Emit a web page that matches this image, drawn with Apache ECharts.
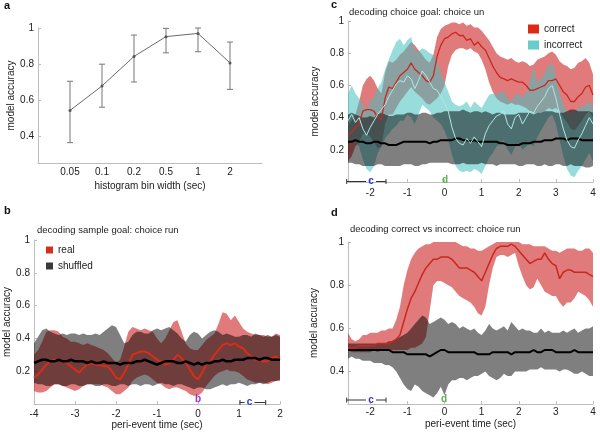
<!DOCTYPE html>
<html><head><meta charset="utf-8">
<script src="https://cdn.jsdelivr.net/npm/echarts@6/dist/echarts.min.js"></script>
<style>html,body{margin:0;padding:0;background:#fff}#c{width:600px;height:434px}</style>
</head><body><div id="c"></div>
<script>
// ---------- panel a ----------
const binLabels = ['0.05','0.1','0.2','0.5','1','2'];
const binPos = [1,2,3,4,5,6];
const accMean = [0.542,0.678,0.842,0.952,0.970,0.806];
const accLo   = [0.363,0.560,0.700,0.862,0.868,0.659];
const accHi   = [0.704,0.799,0.961,0.998,1.000,0.922];

// ---------- panel b ----------
const tB = [-4,-3.9,-3.8,-3.7,-3.6,-3.5,-3.4,-3.3,-3.2,-3.1,
 -3,-2.9,-2.8,-2.7,-2.6,-2.5,-2.4,-2.3,-2.2,-2.1,
 -2,-1.9,-1.8,-1.7,-1.6,-1.5,-1.4,-1.3,-1.2,-1.1,
 -1,-0.9,-0.8,-0.7,-0.6,-0.5,-0.4,-0.3,-0.2,-0.1,
 0,0.1,0.2,0.3,0.4,0.5,0.6,0.7,0.8,0.9,
 1,1.1,1.2,1.3,1.4,1.5,1.6,1.7,1.8,1.9,
 2];
const realMean = [0.16,0.18,0.21,0.24,0.26,0.27,0.27,0.26,0.25,0.23,
 0.21,0.19,0.22,0.24,0.25,0.24,0.24,0.23,0.23,0.20,
 0.16,0.15,0.19,0.24,0.30,0.31,0.32,0.32,0.31,0.29,
 0.27,0.26,0.24,0.25,0.27,0.30,0.28,0.25,0.21,0.17,
 0.15,0.19,0.24,0.26,0.30,0.33,0.36,0.37,0.36,0.37,
 0.35,0.34,0.31,0.29,0.27,0.27,0.26,0.26,0.28,0.29,
 0.27];
const realHi = [0.30,0.33,0.38,0.44,0.45,0.45,0.44,0.41,0.40,0.38,
 0.38,0.37,0.36,0.37,0.36,0.35,0.34,0.33,0.31,0.28,
 0.25,0.27,0.35,0.44,0.47,0.46,0.45,0.46,0.45,0.44,
 0.40,0.37,0.40,0.45,0.50,0.51,0.44,0.37,0.34,0.33,
 0.33,0.36,0.39,0.41,0.43,0.49,0.56,0.55,0.51,0.54,
 0.50,0.46,0.44,0.43,0.42,0.42,0.42,0.41,0.41,0.43,
 0.42];
const realLo = [0.08,0.07,0.07,0.08,0.10,0.12,0.12,0.11,0.10,0.09,
 0.08,0.09,0.11,0.12,0.12,0.12,0.12,0.11,0.10,0.08,
 0.06,0.06,0.08,0.10,0.14,0.16,0.17,0.18,0.17,0.15,
 0.13,0.12,0.10,0.09,0.10,0.10,0.09,0.08,0.06,0.05,
 0.05,0.07,0.11,0.14,0.17,0.19,0.20,0.21,0.20,0.20,
 0.19,0.17,0.15,0.14,0.13,0.13,0.13,0.12,0.13,0.14,
 0.14];
const shufMeanB = [0.25,0.26,0.27,0.27,0.26,0.26,0.27,0.26,0.26,0.27,
 0.26,0.26,0.26,0.25,0.26,0.25,0.25,0.26,0.25,0.25,
 0.25,0.24,0.25,0.25,0.25,0.26,0.26,0.27,0.26,0.25,
 0.24,0.25,0.26,0.26,0.26,0.25,0.25,0.26,0.25,0.24,
 0.25,0.24,0.25,0.25,0.26,0.26,0.27,0.26,0.26,0.27,
 0.27,0.27,0.28,0.28,0.28,0.27,0.28,0.28,0.27,0.27,
 0.27];
const shufHiB = [0.37,0.41,0.45,0.46,0.44,0.43,0.42,0.43,0.42,0.43,
 0.43,0.42,0.43,0.42,0.42,0.43,0.42,0.44,0.46,0.48,
 0.47,0.42,0.37,0.38,0.42,0.44,0.44,0.43,0.43,0.45,
 0.46,0.45,0.46,0.47,0.45,0.43,0.40,0.38,0.42,0.44,
 0.43,0.40,0.42,0.44,0.45,0.44,0.42,0.43,0.42,0.41,
 0.41,0.42,0.42,0.41,0.43,0.42,0.41,0.42,0.41,0.42,
 0.41];
const shufLoB = [0.13,0.12,0.12,0.11,0.11,0.12,0.12,0.11,0.11,0.12,
 0.12,0.11,0.11,0.12,0.12,0.11,0.11,0.12,0.12,0.11,
 0.11,0.12,0.12,0.11,0.12,0.12,0.11,0.12,0.12,0.11,
 0.12,0.13,0.12,0.12,0.11,0.12,0.12,0.11,0.10,0.09,
 0.10,0.10,0.09,0.09,0.10,0.11,0.12,0.11,0.12,0.12,
 0.13,0.12,0.11,0.12,0.12,0.13,0.12,0.13,0.14,0.14,
 0.15];

// ---------- panels c, d ----------
const tCD = [-2.6,-2.5,-2.4,-2.3,-2.2,-2.1,-2,-1.9,-1.8,-1.7,
 -1.6,-1.5,-1.4,-1.3,-1.2,-1.1,-1,-0.9,-0.8,-0.7,
 -0.6,-0.5,-0.4,-0.3,-0.2,-0.1,0,0.1,0.2,0.3,
 0.4,0.5,0.6,0.7,0.8,0.9,1,1.1,1.2,1.3,
 1.4,1.5,1.6,1.7,1.8,1.9,2,2.1,2.2,2.3,
 2.4,2.5,2.6,2.7,2.8,2.9,3,3.1,3.2,3.3,
 3.4,3.5,3.6,3.7,3.8,3.9,4];
const corrMeanC = [0.29,0.31,0.34,0.36,0.44,0.45,0.45,0.44,0.40,0.39,
 0.52,0.59,0.58,0.62,0.66,0.68,0.70,0.74,0.70,0.68,
 0.66,0.63,0.62,0.66,0.78,0.85,0.89,0.90,0.92,0.93,
 0.91,0.91,0.88,0.89,0.85,0.87,0.84,0.82,0.77,0.72,
 0.68,0.65,0.64,0.63,0.64,0.63,0.62,0.62,0.60,0.57,
 0.57,0.58,0.59,0.60,0.63,0.63,0.64,0.60,0.56,0.54,
 0.50,0.50,0.53,0.55,0.59,0.60,0.54];
const corrHiC = [0.35,0.38,0.42,0.50,0.60,0.64,0.66,0.63,0.58,0.55,
 0.68,0.75,0.74,0.76,0.79,0.81,0.84,0.87,0.85,0.82,
 0.79,0.76,0.74,0.79,0.90,0.95,0.97,0.98,0.99,0.99,
 0.98,0.99,0.97,0.98,0.96,0.96,0.94,0.91,0.88,0.84,
 0.80,0.78,0.77,0.76,0.77,0.75,0.74,0.75,0.74,0.72,
 0.73,0.76,0.77,0.78,0.80,0.81,0.79,0.75,0.73,0.72,
 0.70,0.71,0.74,0.75,0.77,0.74,0.67];
const corrLoC = [0.13,0.16,0.22,0.25,0.30,0.30,0.28,0.25,0.21,0.22,
 0.36,0.42,0.42,0.46,0.50,0.53,0.56,0.59,0.56,0.54,
 0.52,0.49,0.48,0.50,0.52,0.55,0.60,0.72,0.79,0.82,
 0.83,0.83,0.82,0.83,0.81,0.80,0.76,0.70,0.62,0.56,
 0.52,0.50,0.49,0.48,0.49,0.48,0.48,0.47,0.46,0.44,
 0.43,0.43,0.43,0.44,0.46,0.45,0.46,0.44,0.40,0.37,
 0.33,0.32,0.35,0.38,0.42,0.44,0.40];
const incMeanC = [0.38,0.42,0.37,0.40,0.33,0.29,0.34,0.38,0.42,0.45,
 0.48,0.53,0.57,0.61,0.63,0.62,0.66,0.64,0.58,0.63,
 0.69,0.66,0.62,0.58,0.57,0.53,0.49,0.44,0.34,0.27,
 0.24,0.23,0.27,0.24,0.28,0.25,0.22,0.30,0.35,0.38,
 0.41,0.42,0.44,0.36,0.33,0.40,0.42,0.36,0.40,0.44,
 0.43,0.47,0.50,0.53,0.58,0.60,0.52,0.42,0.33,0.26,
 0.22,0.21,0.26,0.30,0.35,0.40,0.36];
const incHiC = [0.55,0.60,0.55,0.52,0.48,0.45,0.50,0.53,0.58,0.62,
 0.70,0.76,0.82,0.87,0.89,0.85,0.88,0.90,0.82,0.81,
 0.83,0.82,0.80,0.79,0.75,0.68,0.62,0.56,0.50,0.48,
 0.47,0.48,0.50,0.46,0.50,0.48,0.46,0.50,0.54,0.55,
 0.54,0.56,0.56,0.52,0.50,0.54,0.55,0.52,0.56,0.62,
 0.72,0.62,0.64,0.68,0.72,0.74,0.66,0.55,0.48,0.44,
 0.42,0.44,0.46,0.47,0.48,0.50,0.47];
const incLoC = [0.25,0.27,0.24,0.22,0.14,0.08,0.06,0.10,0.18,0.22,
 0.27,0.30,0.33,0.35,0.38,0.38,0.42,0.40,0.36,0.42,
 0.48,0.46,0.44,0.40,0.38,0.36,0.32,0.26,0.17,0.10,
 0.07,0.06,0.07,0.06,0.08,0.07,0.05,0.10,0.15,0.18,
 0.22,0.24,0.26,0.20,0.17,0.22,0.24,0.20,0.22,0.24,
 0.22,0.28,0.32,0.36,0.40,0.42,0.36,0.26,0.16,0.08,
 0.04,0.03,0.07,0.10,0.14,0.18,0.13];
const shufMeanC = [0.25,0.25,0.26,0.25,0.25,0.24,0.24,0.25,0.25,0.24,
 0.24,0.23,0.23,0.23,0.24,0.25,0.25,0.25,0.25,0.25,
 0.25,0.25,0.24,0.25,0.25,0.26,0.26,0.26,0.26,0.27,
 0.27,0.26,0.26,0.25,0.26,0.25,0.25,0.25,0.25,0.25,
 0.25,0.24,0.24,0.23,0.23,0.23,0.23,0.24,0.24,0.24,
 0.25,0.25,0.25,0.26,0.26,0.26,0.27,0.27,0.27,0.26,
 0.27,0.27,0.27,0.26,0.26,0.26,0.26];
const shufHiC = [0.42,0.43,0.42,0.41,0.40,0.40,0.41,0.40,0.42,0.43,
 0.42,0.41,0.41,0.42,0.42,0.42,0.43,0.43,0.42,0.42,
 0.43,0.43,0.42,0.42,0.43,0.43,0.44,0.44,0.44,0.44,
 0.44,0.45,0.44,0.43,0.44,0.44,0.43,0.44,0.43,0.42,
 0.43,0.43,0.42,0.42,0.42,0.42,0.43,0.43,0.43,0.43,
 0.42,0.43,0.43,0.44,0.44,0.44,0.43,0.43,0.43,0.44,
 0.45,0.45,0.44,0.44,0.44,0.44,0.43];
const shufLoC = [0.12,0.12,0.11,0.11,0.10,0.10,0.10,0.10,0.11,0.11,
 0.10,0.10,0.10,0.10,0.10,0.11,0.11,0.11,0.10,0.10,
 0.11,0.11,0.12,0.12,0.12,0.12,0.12,0.12,0.11,0.11,
 0.11,0.12,0.11,0.11,0.11,0.11,0.12,0.11,0.11,0.11,
 0.10,0.11,0.11,0.11,0.11,0.11,0.10,0.10,0.11,0.11,
 0.11,0.10,0.10,0.11,0.10,0.10,0.11,0.11,0.10,0.10,
 0.11,0.10,0.10,0.10,0.09,0.09,0.10];
const corrMeanD = [0.51,0.51,0.51,0.52,0.52,0.52,0.52,0.52,0.53,0.53,
 0.53,0.53,0.54,0.55,0.57,0.63,0.69,0.74,0.77,0.81,
 0.85,0.88,0.90,0.92,0.92,0.93,0.93,0.93,0.92,0.90,
 0.88,0.88,0.88,0.87,0.86,0.84,0.82,0.86,0.90,0.94,
 0.97,0.98,0.98,0.98,0.99,0.98,0.96,0.94,0.92,0.90,
 0.91,0.92,0.92,0.95,0.92,0.90,0.89,0.83,0.86,0.87,
 0.87,0.86,0.86,0.86,0.86,0.85,0.84];
const corrHiD = [0.58,0.55,0.54,0.55,0.57,0.57,0.58,0.58,0.58,0.59,
 0.59,0.60,0.60,0.64,0.70,0.80,0.87,0.92,0.95,0.97,
 0.98,0.99,0.99,1.00,1.00,1.00,1.00,1.00,1.00,1.00,
 0.99,0.98,0.98,0.97,0.97,0.96,0.96,0.97,0.98,0.99,
 1.00,1.00,1.00,1.00,1.00,1.00,1.00,0.99,0.99,0.99,
 0.98,0.98,0.98,0.98,0.97,0.96,0.96,0.95,0.96,0.97,
 0.97,0.97,0.96,0.96,0.97,0.97,0.95];
const corrLoD = [0.50,0.49,0.49,0.49,0.49,0.49,0.49,0.50,0.49,0.50,
 0.50,0.50,0.50,0.50,0.50,0.50,0.50,0.51,0.51,0.52,
 0.53,0.56,0.68,0.80,0.82,0.82,0.81,0.80,0.79,0.77,
 0.75,0.74,0.73,0.72,0.70,0.67,0.66,0.70,0.80,0.88,
 0.93,0.94,0.94,0.93,0.94,0.95,0.89,0.84,0.80,0.78,
 0.79,0.83,0.80,0.77,0.76,0.75,0.75,0.72,0.70,0.72,
 0.72,0.74,0.77,0.76,0.75,0.73,0.70];
const shufMeanD = [0.50,0.50,0.50,0.50,0.50,0.50,0.50,0.50,0.50,0.50,
 0.50,0.50,0.49,0.49,0.49,0.49,0.48,0.48,0.48,0.48,
 0.48,0.48,0.47,0.48,0.49,0.50,0.50,0.49,0.49,0.49,
 0.49,0.49,0.49,0.49,0.49,0.48,0.48,0.48,0.48,0.49,
 0.49,0.49,0.49,0.49,0.48,0.49,0.49,0.49,0.49,0.49,
 0.50,0.49,0.49,0.50,0.50,0.50,0.49,0.49,0.49,0.49,
 0.49,0.50,0.49,0.49,0.49,0.49,0.49];
const shufHiD = [0.53,0.53,0.53,0.53,0.53,0.53,0.53,0.53,0.53,0.53,
 0.53,0.54,0.54,0.55,0.56,0.57,0.58,0.60,0.62,0.64,
 0.66,0.65,0.62,0.63,0.64,0.65,0.64,0.62,0.63,0.62,
 0.60,0.61,0.60,0.59,0.60,0.58,0.57,0.59,0.62,0.60,
 0.59,0.60,0.61,0.59,0.63,0.61,0.59,0.60,0.59,0.59,
 0.58,0.58,0.60,0.58,0.59,0.58,0.58,0.58,0.59,0.58,
 0.59,0.60,0.58,0.59,0.60,0.60,0.61];
const shufLoD = [0.46,0.47,0.46,0.46,0.45,0.45,0.45,0.44,0.44,0.44,
 0.43,0.43,0.42,0.40,0.37,0.34,0.32,0.31,0.34,0.33,
 0.31,0.30,0.29,0.28,0.30,0.33,0.29,0.34,0.36,0.36,
 0.37,0.37,0.36,0.37,0.38,0.38,0.39,0.40,0.38,0.37,
 0.36,0.37,0.39,0.38,0.38,0.40,0.40,0.40,0.40,0.41,
 0.41,0.41,0.42,0.41,0.41,0.41,0.41,0.40,0.41,0.41,
 0.40,0.39,0.39,0.40,0.39,0.38,0.38];

// tick label sets
const yTicks01 = [0.2,0.4,0.6,0.8,1];
const yTicksHi = [0.4,0.6,0.8,1];
const xTicksB = [-4,-3,-2,-1,0,1,2];
const xTicksCD = [-2,-1,0,1,2,3,4];

// sanity check of lengths
[[tB,[realMean,realHi,realLo,shufMeanB,shufHiB,shufLoB]],
 [tCD,[corrMeanC,corrHiC,corrLoC,incMeanC,incHiC,incLoC,shufMeanC,shufHiC,shufLoC,corrMeanD,corrHiD,corrLoD,shufMeanD,shufHiD,shufLoD]]]
 .forEach(([t,arrs])=>arrs.forEach((a,i)=>{ if(a.length!==t.length) throw new Error('length mismatch '+i+' '+a.length+' vs '+t.length); }));

const FONT = "'Liberation Sans', Arial, Helvetica, sans-serif";
const AX = '#bdbdbd';
const pts = (t,v) => t.map((x,i)=>[x,v[i]]);

// shaded band: one polygon through all (x, hi) then back through (x, lo), via the axes' coord()
function band(name, t, lo, hi, color, opacity, ax){
  return {type:'custom', name:name, xAxisIndex:ax, yAxisIndex:ax, silent:true,
    data: t.map((x,i)=>[x, lo[i], hi[i]]), encode:{x:0, y:[1,2]},
    itemStyle:{color:color},
    renderItem:(params, api)=>{
      if (params.dataIndexInside !== 0) return null;
      const n = params.dataInsideLength;
      const top = [], bot = [];
      for (let i=0;i<n;i++){
        const x = api.value(0,i);
        top.push(api.coord([x, api.value(2,i)]));
        bot.push(api.coord([x, api.value(1,i)]));
      }
      return {type:'polygon', shape:{points: top.concat(bot.reverse())},
              style:{fill:color, opacity:opacity}};
    }};
}
function mline(name, t, v, color, width, ax){
  return {type:'line', name:name, xAxisIndex:ax, yAxisIndex:ax, data:pts(t,v), symbol:'none',
          lineStyle:{color:color, width:width}, silent:true};
}
function xAx(gi, min, max, ticks, name, nameGap, margin, fmt, showTick){
  return {type:'value', gridIndex:gi, min:min, max:max,
    name:name, nameLocation:'middle', nameGap:nameGap,
    nameTextStyle:{color:'#222', fontSize:10, fontFamily:FONT},
    axisLine:{onZero:false, lineStyle:{color:AX}},
    axisTick:{show:showTick!==false, inside:true, length:3, customValues:ticks, lineStyle:{color:AX}},
    axisLabel:{customValues:ticks, color:'#222', fontSize:10, fontFamily:FONT, margin:margin, formatter:fmt},
    splitLine:{show:false}};
}
function yAx(gi, min, max, ticks, nameGap){
  return {type:'value', gridIndex:gi, min:min, max:max,
    name:'model accuracy', nameLocation:'middle', nameGap:nameGap,
    nameTextStyle:{color:'#222', fontSize:10, fontFamily:FONT},
    axisLine:{show:true, onZero:false, lineStyle:{color:AX}},
    axisTick:{show:true, inside:true, length:3, customValues:ticks, lineStyle:{color:AX}},
    axisLabel:{customValues:ticks, color:'#222', fontSize:10, fontFamily:FONT, margin:4},
    splitLine:{show:false}};
}

const RED = 'rgb(205,35,35)';
const CYAN = 'rgb(70,192,192)';

const series = [];
// panel a
series.push({type:'line', name:'acc', xAxisIndex:0, yAxisIndex:0, data:pts(binPos,accMean),
  symbol:'circle', symbolSize:3, itemStyle:{color:'#555'}, lineStyle:{color:'#6a6a6a', width:1}, silent:true, z:3});
series.push({type:'custom', name:'accErr', xAxisIndex:0, yAxisIndex:0,
  data: binPos.map((x,i)=>[x, accLo[i], accHi[i]]), encode:{x:0, y:[1,2]}, silent:true,
  renderItem:(params, api)=>{
    const x = api.value(0);
    const p1 = api.coord([x, api.value(1)]), p2 = api.coord([x, api.value(2)]);
    const w = 3, st = {stroke:'#777', lineWidth:1};
    return {type:'group', children:[
      {type:'line', shape:{x1:p1[0],y1:p1[1],x2:p2[0],y2:p2[1]}, style:st},
      {type:'line', shape:{x1:p1[0]-w,y1:p1[1],x2:p1[0]+w,y2:p1[1]}, style:st},
      {type:'line', shape:{x1:p2[0]-w,y1:p2[1],x2:p2[0]+w,y2:p2[1]}, style:st}
    ]};
  }});
// panel b
series.push(band('real',tB,realLo,realHi,RED,0.6,1));
series.push(band('shuffled',tB,shufLoB,shufHiB,'#000',0.5,1));
series.push(mline('bRealMean',tB,realMean,'rgb(215,45,25)',2,1));
series.push(mline('bShufMean',tB,shufMeanB,'#000',2.5,1));
// panel c
series.push(band('correct',tCD,corrLoC,corrHiC,RED,0.6,2));
series.push(band('incorrect',tCD,incLoC,incHiC,CYAN,0.55,2));
series.push(band('shuffled c',tCD,shufLoC,shufHiC,'#000',0.5,2));
series.push(mline('cShufMean',tCD,shufMeanC,'#000',2,2));
series.push(mline('cCorrMean',tCD,corrMeanC,'rgb(200,40,30)',1.3,2));
series.push(mline('cIncMean',tCD,incMeanC,'rgb(175,232,232)',1,2));
// panel d
series.push(band('correct d',tCD,corrLoD,corrHiD,RED,0.6,3));
series.push(band('shuffled d',tCD,shufLoD,shufHiD,'#000',0.5,3));
series.push(mline('dShufMean',tCD,shufMeanD,'#000',2,3));
series.push(mline('dCorrMean',tCD,corrMeanD,'rgb(200,40,30)',1.5,3));

function bracket(x1, x2, xc, y, label, color){
  const st = {stroke:'#333', lineWidth:1};
  return [
    {type:'line', z:100, shape:{x1:x1,y1:y,x2:xc-5,y2:y}, style:st},
    {type:'line', z:100, shape:{x1:xc+5,y1:y,x2:x2,y2:y}, style:st},
    {type:'line', z:100, shape:{x1:x1,y1:y-2.5,x2:x1,y2:y+2.5}, style:st},
    {type:'line', z:100, shape:{x1:x2,y1:y-2.5,x2:x2,y2:y+2.5}, style:st},
    {type:'text', z:100, x:xc, y:y, style:{text:label, fill:color, font:'bold 10px '+FONT, align:'center', verticalAlign:'middle'}}
  ];
}
function tag(x, y, label, color){
  return {type:'text', z:100, x:x, y:y, style:{text:label, fill:color, font:'bold 10px '+FONT, align:'center', verticalAlign:'middle'}};
}

const titleStyle = {fontSize:9.5, fontWeight:'normal', color:'#222', fontFamily:FONT};
const panelStyle = {fontSize:11, fontWeight:'bold', color:'#111', fontFamily:FONT};

const option = {
  animation:false,
  backgroundColor:'#fff',
  textStyle:{fontFamily:FONT},
  title:[
    {text:'a', left:4, top:0, padding:0, textStyle:panelStyle},
    {text:'b', left:4, top:205, padding:0, textStyle:panelStyle},
    {text:'c', left:331, top:-1, padding:0, textStyle:panelStyle},
    {text:'d', left:331, top:207, padding:0, textStyle:panelStyle},
    {text:'decoding sample goal: choice run', left:37, top:225, padding:0, textStyle:titleStyle},
    {text:'decoding choice goal: choice un', left:349, top:7, padding:0, textStyle:titleStyle},
    {text:'decoding correct vs incorrect: choice run', left:350, top:224, padding:0, textStyle:titleStyle}
  ],
  legend:[
    {left:46, top:245, orient:'vertical', itemWidth:7, itemHeight:7, itemGap:6, padding:0, selectedMode:false,
     textStyle:{fontSize:10, color:'#222', fontFamily:FONT},
     data:[{name:'real', icon:'rect', itemStyle:{color:'rgb(212,48,28)', opacity:1}},
           {name:'shuffled', icon:'rect', itemStyle:{color:'#3a3a3a', opacity:1}}]},
    {left:528, top:24, orient:'vertical', itemWidth:11, itemHeight:9, itemGap:6, padding:0, selectedMode:false,
     textStyle:{fontSize:10, color:'#222', fontFamily:FONT},
     data:[{name:'correct', icon:'rect', itemStyle:{color:'rgb(222,42,20)', opacity:1}},
           {name:'incorrect', icon:'rect', itemStyle:{color:'rgb(104,204,204)', opacity:1}}]}
  ],
  grid:[
    {left:38, top:28, width:224, height:135},
    {left:34, top:240, width:246, height:164},
    {left:348, top:21, width:245, height:161},
    {left:348, top:242, width:245, height:162}
  ],
  xAxis:[
    xAx(0, 0, 7, binPos, 'histogram bin width (sec)', 18, 4, v => binLabels[binPos.indexOf(v)], false),
    xAx(1, -4, 2, xTicksB, 'peri-event time (sec)', 16, 5),
    xAx(2, -2.6, 4, xTicksCD, '', 10, 6),
    xAx(3, -2.6, 4, xTicksCD, 'peri-event time (sec)', 15, 3)
  ],
  yAxis:[
    yAx(0, 0.25, 1, yTicksHi, 20),
    yAx(1, 0, 1, yTicks01, 19),
    yAx(2, 0, 1, yTicks01, 28),
    yAx(3, 0.25, 1, yTicksHi, 29)
  ],
  series:series,
  graphic:[
    tag(198, 399, 'b', '#9b30d8'),
    ...bracket(240, 265.7, 249.5, 402.5, 'c', '#2b3ccc'),
    ...bracket(346.7, 386, 371, 181.5, 'c', '#2b3ccc'),
    tag(445, 180.5, 'd', '#5db04f'),
    ...bracket(346.7, 386, 371, 400, 'c', '#2b3ccc'),
    tag(444, 399.5, 'd', '#5db04f')
  ]
};
const chart = echarts.init(document.getElementById('c'), null, {renderer:'canvas'});
chart.setOption(option);
</script>
</body></html>
